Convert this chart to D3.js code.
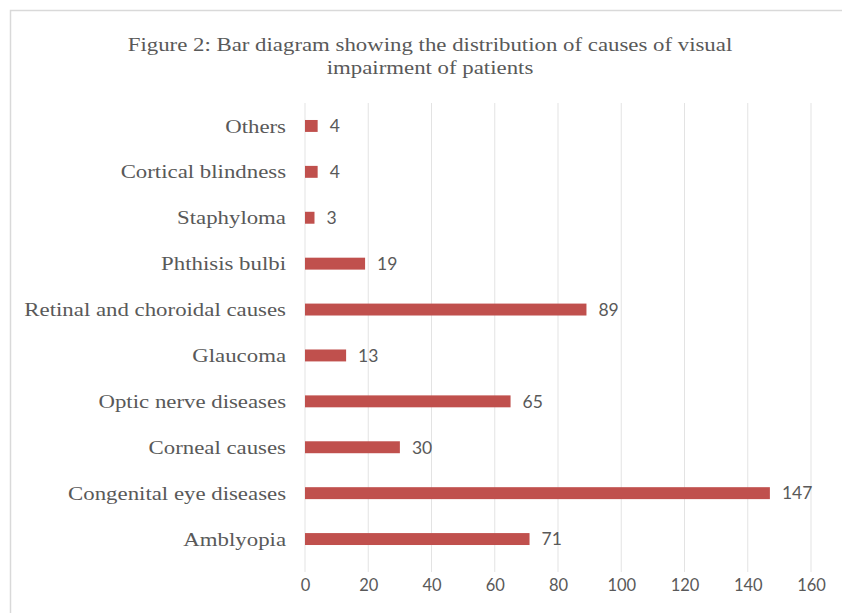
<!DOCTYPE html>
<html><head><meta charset="utf-8">
<script src="https://cdn.jsdelivr.net/npm/d3@7"></script>
<style>body{margin:0;background:#fff}</style>
</head><body>
<svg id="chart" width="842" height="613"></svg>
<script>
const categories = ["Others","Cortical blindness","Staphyloma","Phthisis bulbi","Retinal and choroidal causes","Glaucoma","Optic nerve diseases","Corneal causes","Congenital eye diseases","Amblyopia"];
const values = [4,4,3,19,89,13,65,30,147,71];
const xTicks = [0,20,40,60,80,100,120,140,160];
const titleLines = ["Figure 2: Bar diagram  showing the distribution of causes of visual","impairment of patients"];

(function(){
const svg = d3.select("#chart");
function widen(sel, stretch){
  sel.each(function(){
    const w = this.getComputedTextLength();
    d3.select(this).attr("textLength", w*stretch).attr("lengthAdjust","spacingAndGlyphs");
  });
}
// outer frame (top & left visible)
svg.append("rect").attr("x",10.5).attr("y",10.5).attr("width",860).attr("height",640)
  .attr("fill","#fff").attr("stroke","#d9d9d9").attr("stroke-width",1.5);

const pLeft = 305, pRight = 811, pTop = 103, pBottom = 562;
const x = d3.scaleLinear().domain([0,160]).range([pLeft,pRight]);
const y = d3.scaleBand().domain(categories).range([pTop,pBottom]).paddingInner(0.74).paddingOuter(0.37);

// gridlines
svg.append("g").selectAll("line").data(xTicks).join("line")
  .attr("x1",d=>x(d)).attr("x2",d=>x(d)).attr("y1",pTop).attr("y2",pBottom+10)
  .attr("stroke","#e3e3e3").attr("stroke-width",1);

// title
const t = svg.append("g").selectAll("text").data(titleLines).join("text")
  .attr("x",430).attr("y",(d,i)=>51+i*23).attr("text-anchor","middle")
  .attr("font-family","Liberation Serif").attr("font-size",19.5).attr("fill","#595959")
  .text(d=>d);
widen(t, 1.17);

// bars
svg.append("g").selectAll("rect").data(values).join("rect")
  .attr("x",x(0)).attr("y",(d,i)=>y(categories[i]))
  .attr("width",d=>x(d)-x(0)).attr("height",y.bandwidth())
  .attr("fill","#c0504d");

// value labels
svg.append("g").selectAll("text").data(values).join("text")
  .attr("x",d=>x(d)+12).attr("y",(d,i)=>y(categories[i])+y.bandwidth()/2)
  .attr("dy","0.36em").attr("font-family","Lato, 'Liberation Sans', sans-serif")
  .attr("font-size",17.5).attr("fill","#595959").text(d=>d);

// y axis labels
const yAxis = d3.axisLeft(y).tickSize(0).tickPadding(19);
const gy = svg.append("g").attr("transform",`translate(${pLeft},0)`).call(yAxis);
gy.select(".domain").remove();
gy.selectAll("text").attr("font-family","Liberation Serif").attr("font-size",19.5).attr("fill","#595959").attr("dy","0.34em");
widen(gy.selectAll("text"), 1.17);

// x axis labels
const xAxis = d3.axisBottom(x).tickValues(xTicks).tickSize(0).tickPadding(0);
const gx = svg.append("g").attr("transform",`translate(0,${pBottom+17})`).call(xAxis);
gx.select(".domain").remove();
gx.selectAll("text").attr("font-family","Lato, 'Liberation Sans', sans-serif").attr("font-size",16.5).attr("fill","#595959");
})();
</script>
</body></html>
